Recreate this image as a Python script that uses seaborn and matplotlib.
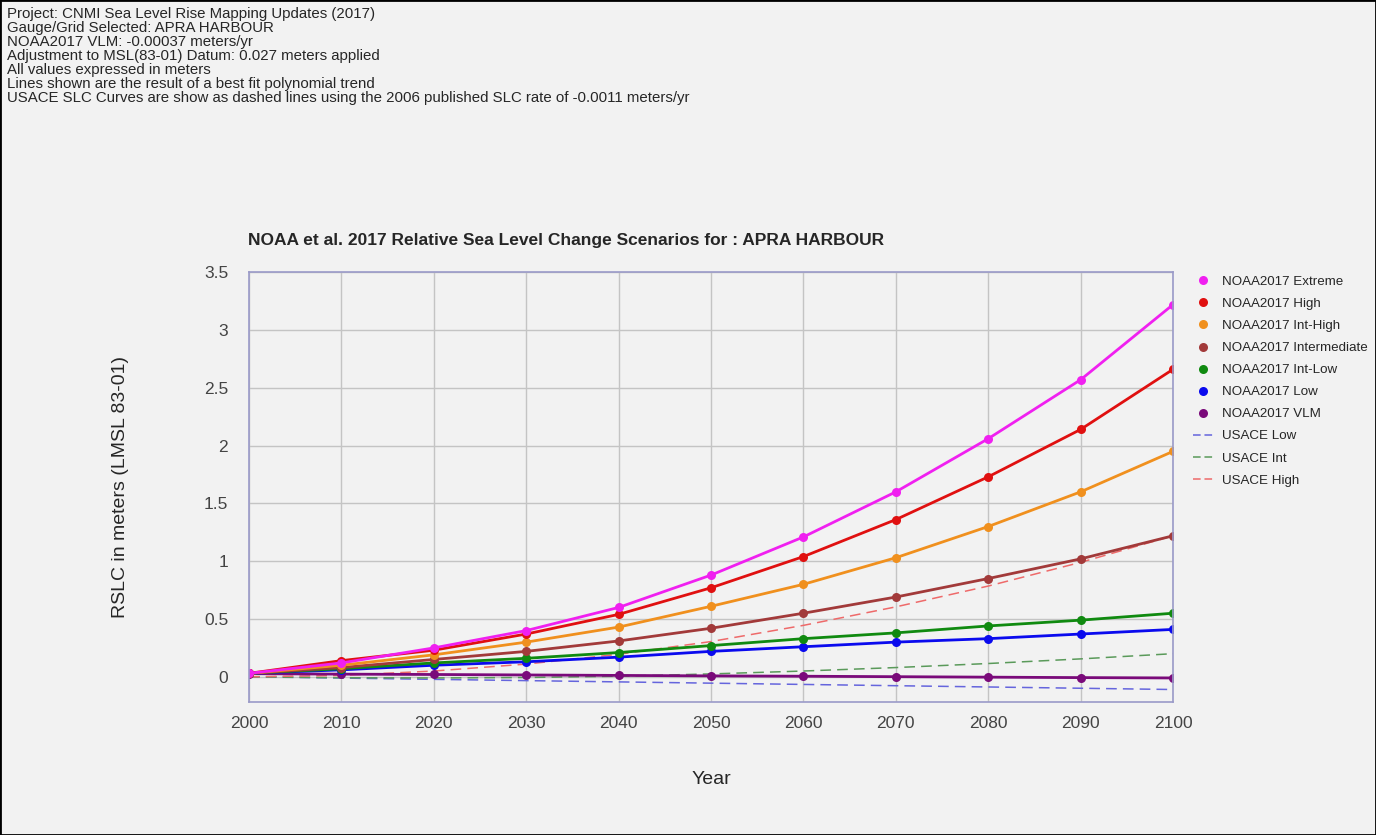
import matplotlib
matplotlib.use("Agg")
import matplotlib.pyplot as plt
from matplotlib.lines import Line2D
import seaborn as sns
import pandas as pd

# ================= DATA =================
YEARS = [2000, 2010, 2020, 2030, 2040, 2050, 2060, 2070, 2080, 2090, 2100]

noaa_extreme = [0.03, 0.12, 0.25, 0.40, 0.60, 0.88, 1.21, 1.60, 2.06, 2.57, 3.22]
noaa_high = [0.03, 0.14, 0.23, 0.37, 0.54, 0.77, 1.04, 1.36, 1.73, 2.14, 2.66]
noaa_int_high = [0.03, 0.10, 0.19, 0.30, 0.43, 0.61, 0.80, 1.03, 1.30, 1.60, 1.95]
noaa_intermediate = [0.03, 0.08, 0.15, 0.22, 0.31, 0.42, 0.55, 0.69, 0.85, 1.02, 1.22]
noaa_int_low = [0.03, 0.07, 0.12, 0.16, 0.21, 0.27, 0.33, 0.38, 0.44, 0.49, 0.55]
noaa_low = [0.03, 0.06, 0.10, 0.13, 0.17, 0.22, 0.26, 0.30, 0.33, 0.37, 0.41]
noaa_vlm = [0.027, 0.023, 0.020, 0.016, 0.012, 0.008, 0.005, 0.001, -0.003, -0.007, -0.010]

usace_low = [0.0, -0.011, -0.022, -0.033, -0.044, -0.055, -0.066, -0.077, -0.088, -0.099, -0.11]
usace_int = [0.0, -0.008, -0.010, -0.006, 0.005, 0.025, 0.050, 0.080, 0.115, 0.155, 0.200]
usace_high = [0.0, 0.012, 0.050, 0.110, 0.195, 0.305, 0.445, 0.605, 0.785, 0.990, 1.220]

NOAA_NAMES = ["NOAA2017 Extreme", "NOAA2017 High", "NOAA2017 Int-High",
              "NOAA2017 Intermediate", "NOAA2017 Int-Low", "NOAA2017 Low", "NOAA2017 VLM"]
NOAA_VALUES = [noaa_extreme, noaa_high, noaa_int_high, noaa_intermediate,
               noaa_int_low, noaa_low, noaa_vlm]
NOAA_COLORS = ["#f020f0", "#e01010", "#f0901e", "#a23a3a", "#108a10", "#0a0aee", "#7a0a7a"]

USACE_NAMES = ["USACE Low", "USACE Int", "USACE High"]
USACE_VALUES = [usace_low, usace_int, usace_high]
USACE_COLORS = ["#6565dd", "#5a9a5a", "#ee6a6a"]

NOTES = [
    "Project: CNMI Sea Level Rise Mapping Updates (2017)",
    "Gauge/Grid Selected: APRA HARBOUR",
    "NOAA2017 VLM: -0.00037 meters/yr",
    "Adjustment to MSL(83-01) Datum: 0.027 meters applied",
    "All values expressed in meters",
    "Lines shown are the result of a best fit polynomial trend",
    "USACE SLC Curves are show as dashed lines using the 2006 published SLC rate of -0.0011 meters/yr",
]

BG = "#f2f2f2"

# ================= PLOT =================
sns.set_style("whitegrid")
plt.rcParams["font.family"] = ["Liberation Sans", "DejaVu Sans"]

fig = plt.figure(figsize=(13.76, 8.35), dpi=100, facecolor=BG)
ax = fig.add_axes([0.181, 0.159, 0.6715, 0.515])
ax.set_facecolor(BG)

# dashed USACE curves
for name, vals, col in zip(USACE_NAMES, USACE_VALUES, USACE_COLORS):
    sns.lineplot(x=YEARS, y=vals, ax=ax, color=col, linewidth=1.1, legend=False)
    ax.lines[-1].set_dashes([7, 4])

# NOAA scenarios
for name, vals, col in reversed(list(zip(NOAA_NAMES, NOAA_VALUES, NOAA_COLORS))):
    df = pd.DataFrame({"year": YEARS, "rslc": vals})
    sns.lineplot(data=df, x="year", y="rslc", ax=ax, color=col, linewidth=2.0,
                 marker="o", markersize=6.5, markeredgewidth=0, legend=False)

ax.set_xlim(2000, 2100)
ax.set_ylim(-0.22, 3.5)
ax.set_xticks(YEARS)
ax.set_yticks([0, 0.5, 1, 1.5, 2, 2.5, 3, 3.5])
ax.set_yticklabels(["0", "0.5", "1", "1.5", "2", "2.5", "3", "3.5"])
ax.tick_params(axis="both", labelsize=12.5, colors="#444444", length=0)
ax.tick_params(axis="y", pad=15)
ax.tick_params(axis="x", pad=10)
ax.grid(True, color="#c4c4c4", linewidth=1.0)
for sp in ax.spines.values():
    sp.set_color("#9a9ac8")
    sp.set_linewidth(1.2)

ax.set_xlabel("Year", fontsize=14)
ax.set_ylabel("RSLC in meters (LMSL 83-01)", fontsize=14)
ax.yaxis.set_label_coords(-0.139, 0.5)
ax.yaxis.label.set_va("center")
ax.xaxis.label.set_va("center")
ax.xaxis.set_label_coords(0.5, -0.18)

fig.text(0.180, 0.712, "NOAA et al. 2017 Relative Sea Level Change Scenarios for : APRA HARBOUR",
         fontsize=12.5, fontweight="bold", ha="left", va="center")

for i, line in enumerate(NOTES):
    fig.text(0.005, 0.992 - i * 0.01677, line, fontsize=10.8, ha="left", va="top")

# legend
handles = [Line2D([], [], color=c, marker="o", linestyle="none", markersize=6.5,
                  markeredgewidth=0) for c in NOAA_COLORS]
handles += [Line2D([], [], color=c, linestyle=(0, (5, 2.5)), linewidth=1.1)
            for c in USACE_COLORS]
fig.legend(handles, NOAA_NAMES + USACE_NAMES, loc="upper left",
           bbox_to_anchor=(0.860, 0.681), frameon=False, fontsize=9.6,
           handlelength=1.6, handletextpad=0.6, labelspacing=0.73,
           borderaxespad=0.3)

# outer border
fig.patches.append(plt.Rectangle((0, 0), 1, 1, transform=fig.transFigure,
                                 fill=False, edgecolor="black", linewidth=2))

plt.savefig("out.png", dpi=100, facecolor=BG)
